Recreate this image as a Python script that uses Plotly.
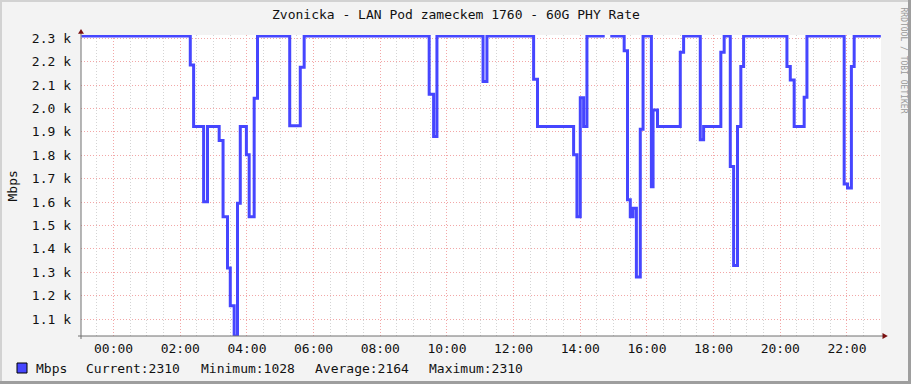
import plotly.graph_objects as go

# ---------------- data ----------------
title_text = "Zvonicka - LAN Pod zameckem 1760 - 60G PHY Rate"
series_name = "Mbps"
start_time = "2024-01-01 23:02"      # first sample (previous day)
day = "2024-01-02"
# step start times (HH:MM on `day`) and the value held from that time on; None = no data
times = ["02:18", "02:24", "02:42", "02:49", "03:10", "03:17", "03:25", "03:30", "03:37",
         "03:43", "03:48", "03:59", "04:04", "04:13", "04:19", "05:17", "05:36", "05:43",
         "09:28", "09:36", "09:42", "11:05", "11:12", "12:36", "12:43", "13:48", "13:54",
         "14:00", "14:06", "14:12", "14:44", "14:54", "15:19", "15:25", "15:30", "15:35",
         "15:41", "15:48", "15:53", "16:08", "16:11", "16:19", "17:00", "17:06", "17:36",
         "17:42", "18:13", "18:19", "18:30", "18:36", "18:43", "18:49", "18:54", "20:12",
         "20:18", "20:25", "20:43", "20:48", "21:55", "22:01", "22:08", "22:13", "23:01"]
first_value = 2310
values = [2186, 1923, 1602, 1923, 1863, 1538, 1318, 1157, 1028,
          1595, 1923, 1802, 1538, 2044, 2310, 1926, 2176, 2310,
          2061, 1880, 2310, 2115, 2310, 2125, 1923, 1802, 1538,
          2046, 1923, 2310, None, 2310, 2247, 1610, 1538, 1574,
          1280, 1911, 2310, 1666, 1994, 1923, 2240, 2310, 1866,
          1923, 2240, 2310, 1752, 1329, 1923, 2179, 2310, 2179,
          2122, 1923, 2048, 2310, 1677, 1660, 2179, 2310, 2310]

y_tick_vals = [1100, 1200, 1300, 1400, 1500, 1600, 1700, 1800, 1900, 2000, 2100, 2200, 2300]
y_tick_text = ["1.1 k", "1.2 k", "1.3 k", "1.4 k", "1.5 k", "1.6 k", "1.7 k",
               "1.8 k", "1.9 k", "2.0 k", "2.1 k", "2.2 k", "2.3 k"]
legend_stats = ["Current:2310", "Minimum:1028", "Average:2164", "Maximum:2310"]
watermark = "RRDTOOL / TOBI OETIKER"

# ---------------- build step path ----------------
all_t = [start_time] + [f"{day} {t}" for t in times]
all_v = [first_value] + values
xs, ys = [], []
for i in range(len(all_t) - 1):
    v = all_v[i]
    if v is None:
        xs.append(all_t[i]); ys.append(None)
    else:
        xs += [all_t[i], all_t[i + 1]]
        ys += [v, v]

# ---------------- layout geometry ----------------
W, H = 911, 384
L, R, T, B = 81, 881, 35, 336
pw, ph = R - L, B - T

def px(x):
    return (x - L) / pw

def py(y):
    return (B - y) / ph

BLUE = "#4646FF"
FONT = "DejaVu Sans Mono"
TXT = "#111111"

fig = go.Figure()
fig.add_trace(go.Scatter(x=xs, y=ys, mode="lines", line=dict(color=BLUE, width=3),
                         connectgaps=False, hoverinfo="skip", showlegend=False))

fig.update_layout(
    width=W, height=H,
    margin=dict(l=L, r=W - R, t=T, b=H - B, pad=0, autoexpand=False),
    paper_bgcolor="#F3F3F3", plot_bgcolor="#FFFFFF",
    font=dict(family=FONT, size=13, color=TXT),
    showlegend=False,
    xaxis=dict(
        type="date", automargin=False,
        range=["2024-01-01 23:01:18", "2024-01-02 23:01:18"],
        tick0=f"{day} 00:00", dtick=2 * 3600 * 1000, tickformat="%H:%M",
        showgrid=True, gridcolor="#F2A7A7", griddash="1px,2px", gridwidth=1,
        minor=dict(dtick=30 * 60 * 1000, showgrid=True, gridcolor="#D4D4D4",
                   griddash="1px,2px", gridwidth=1),
        showline=False, zeroline=False, ticks="", ticklabelstandoff=3,
        tickfont=dict(family=FONT, size=13, color=TXT),
        fixedrange=True,
    ),
    yaxis=dict(
        range=[1028, 2314], automargin=False,
        tickvals=y_tick_vals, ticktext=y_tick_text,
        showgrid=True, gridcolor="#F2A7A7", griddash="1px,2px", gridwidth=1,
        showline=False, zeroline=False, ticks="", ticklabelstandoff=9,
        tickfont=dict(family=FONT, size=13, color=TXT),
        fixedrange=True,
    ),
)

shapes = []
AX = "#707070"
ARW = "#7A1010"
# axis lines
shapes.append(dict(type="line", xref="paper", yref="paper", x0=px(78), x1=px(883),
                   y0=py(336), y1=py(336), line=dict(color=AX, width=1)))
shapes.append(dict(type="line", xref="paper", yref="paper", x0=px(81), x1=px(81),
                   y0=py(339), y1=py(33), line=dict(color=AX, width=1)))
# arrows
shapes.append(dict(type="path", xref="paper", yref="paper",
                   path=f"M {px(78)} {py(33.8)} L {px(84)} {py(33.8)} L {px(81)} {py(29)} Z",
                   fillcolor=ARW, line=dict(color=ARW, width=0)))
shapes.append(dict(type="path", xref="paper", yref="paper",
                   path=f"M {px(882.5)} {py(333)} L {px(882.5)} {py(339)} L {px(887.8)} {py(336)} Z",
                   fillcolor=ARW, line=dict(color=ARW, width=0)))
# frame
shapes.append(dict(type="rect", xref="paper", yref="paper", x0=px(0), x1=px(W), y0=py(0), y1=py(2),
                   fillcolor="#D2D2D2", line=dict(width=0), layer="below"))
shapes.append(dict(type="rect", xref="paper", yref="paper", x0=px(0), x1=px(2), y0=py(0), y1=py(H),
                   fillcolor="#D2D2D2", line=dict(width=0), layer="below"))
shapes.append(dict(type="rect", xref="paper", yref="paper", x0=px(0), x1=px(W), y0=py(381), y1=py(H),
                   fillcolor="#9E9E9E", line=dict(width=0)))
shapes.append(dict(type="rect", xref="paper", yref="paper", x0=px(908), x1=px(W), y0=py(0), y1=py(H),
                   fillcolor="#9E9E9E", line=dict(width=0)))
# legend swatch
shapes.append(dict(type="rect", xref="paper", yref="paper", x0=px(17), x1=px(27), y0=py(363), y1=py(373),
                   fillcolor=BLUE, line=dict(color="#000000", width=1)))
fig.update_layout(shapes=shapes)

ann = []
ann.append(dict(text=title_text, xref="paper", yref="paper", x=px(W / 2), y=py(14),
                xanchor="center", yanchor="middle", showarrow=False,
                font=dict(family=FONT, size=13, color=TXT)))
ann.append(dict(text=series_name, xref="paper", yref="paper", x=px(12), y=py(186.5),
                xanchor="center", yanchor="middle", textangle=-90, showarrow=False,
                font=dict(family=FONT, size=13, color=TXT)))
ann.append(dict(text=series_name, xref="paper", yref="paper", x=px(34), y=py(368.5),
                xanchor="left", yanchor="middle", showarrow=False,
                font=dict(family=FONT, size=13, color=TXT)))
for s, x0 in zip(legend_stats, [84.3, 198.8, 312.8, 426.7]):
    ann.append(dict(text=s, xref="paper", yref="paper", x=px(x0), y=py(368.5),
                    xanchor="left", yanchor="middle", showarrow=False,
                    font=dict(family=FONT, size=13, color=TXT)))
ann.append(dict(text=watermark, xref="paper", yref="paper", x=px(903.5), y=py(5),
                xanchor="center", yanchor="top", textangle=90, showarrow=False,
                font=dict(family=FONT, size=8, color="#9A9A9A")))
fig.update_layout(annotations=ann)

fig.write_html("out.html")
